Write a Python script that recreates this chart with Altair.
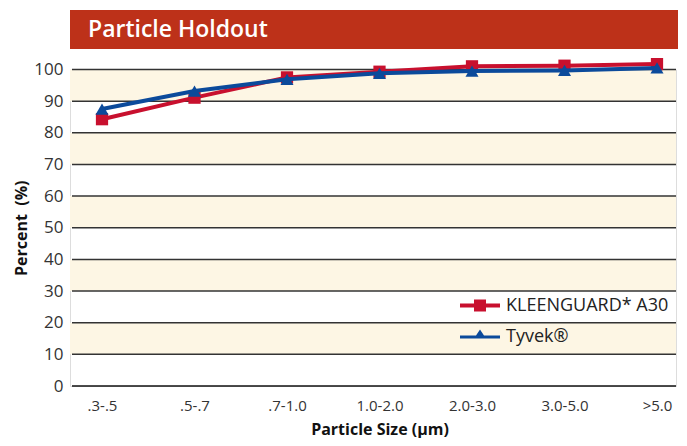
import altair as alt
import pandas as pd

categories = [".3-.5", ".5-.7", ".7-1.0", "1.0-2.0", "2.0-3.0", "3.0-5.0", ">5.0"]
series_names = ["KLEENGUARD* A30", "Tyvek®"]
kleenguard = [84.3, 91.1, 97.5, 99.3, 101.0, 101.2, 101.7]
tyvek = [87.5, 93.2, 96.9, 98.8, 99.5, 99.7, 100.5]
grid_values = [0, 10, 20, 30, 40, 50, 60, 70, 80, 90, 100]
band_starts = [10, 30, 50, 70, 90]

RED = "#c8102e"
BLUE = "#0b4a9b"
BANNER = "#bd3119"
CREAM = "#fdf6e4"
FONT = "Open Sans"

W, H = 606, 316.5

rows = []
for name, vals in zip(series_names, [kleenguard, tyvek]):
    for c, v in zip(categories, vals):
        rows.append({"size": c, "series": name, "value": v})
df = pd.DataFrame(rows)

bands = pd.DataFrame({"lo": band_starts, "hi": [b + 10 for b in band_starts]})
grid = pd.DataFrame({"v": grid_values})
one = pd.DataFrame({"t": ["Particle Holdout"]})

yscale = alt.Scale(domain=[0, 100], nice=False)
xscale = alt.Scale(domain=categories, range=[32, 587], padding=0)

x_axis = alt.Axis(
    title="Particle Size (µm)",
    labelAngle=0,
    ticks=False,
    domain=False,
    labelPadding=12,
    labelFontSize=15,
    labelColor="#333",
    labelFont=FONT,
    titleFont=FONT,
    titleFontSize=16,
    titleFontWeight="bold",
    titleColor="#111",
    titlePadding=8,
)
y_axis = alt.Axis(
    title="Percent\u00a0\u00a0(%)",
    values=list(range(0, 101, 10)),
    grid=False,
    ticks=False,
    domain=False,
    labelOverlap=False,
    labelPadding=7,
    labelFontSize=17,
    labelColor="#333",
    labelFont=FONT,
    titleFont=FONT,
    titleFontSize=16,
    titleFontWeight="bold",
    titleColor="#111",
    titlePadding=4,
)

x_enc = alt.X("size:O", scale=xscale, sort=categories, axis=x_axis)
y_enc = alt.Y("value:Q", scale=yscale, axis=y_axis)

band_layer = alt.Chart(bands).mark_rect(color=CREAM).encode(
    x=alt.value(0), x2=alt.value(W),
    y=alt.Y("lo:Q", scale=yscale, axis=y_axis), y2="hi:Q",
)
grid_layer = alt.Chart(grid).mark_rule(strokeWidth=1.5).encode(
    x=alt.value(2), x2=alt.value(W),
    y=alt.Y("v:Q", scale=yscale, axis=y_axis),
    color=alt.condition(alt.datum.v == 0, alt.value("#111111"), alt.value("#333333")),
)

layers = [band_layer, grid_layer]
for name, color, shape, sz in [(series_names[0], RED, "square", 150), (series_names[1], BLUE, "triangle-up", 170)]:
    base = alt.Chart(df).transform_filter(alt.datum.series == name)
    layers.append(base.mark_line(color=color, strokeWidth=4, clip=False).encode(x=x_enc, y=y_enc))
    layers.append(base.mark_point(color=color, shape=shape, size=sz, filled=True, opacity=1, clip=False).encode(x=x_enc, y=y_enc))

sq_path = "M-1,-0.1H-0.3V-0.3H0.3V-0.1H1V0.1H0.3V0.3H-0.3V0.1H-1Z"
tri_path = "M-1,-0.05H-0.3V0.1H-1Z M-0.3,0.1L0,-0.35L0.3,0.1Z M0.3,-0.05H1V0.1H0.3Z M-0.3,-0.05H0.3V0.1H-0.3Z"

legend_layer = alt.Chart(df).mark_point(filled=True, opacity=0, size=10).encode(
    x=x_enc, y=y_enc,
    color=alt.Color("series:N", scale=alt.Scale(domain=series_names, range=[RED, BLUE]), title=None),
    shape=alt.Shape(
        "series:N",
        scale=alt.Scale(domain=series_names, range=[sq_path, tri_path]),
        title=None,
        legend=alt.Legend(
            orient="none",
            legendX=390,
            legendY=216,
            symbolSize=1600,
            symbolOpacity=1,
            symbolStrokeWidth=0,
            labelFontSize=18,
            labelFont=FONT,
            labelColor="#222",
            labelOffset=6,
            labelLimit=400,
            rowPadding=2,
        ),
    ),
)
layers.append(legend_layer)

banner = alt.Chart(one).mark_rect(color=BANNER, clip=False).encode(
    x=alt.value(0), x2=alt.value(W + 2), y=alt.value(-59.5), y2=alt.value(-20.5)
)
banner_text = alt.Chart(one).mark_text(
    color="white", font=FONT, fontSize=23, fontWeight=600, align="left", baseline="middle"
).encode(x=alt.value(18), y=alt.value(-40), text="t:N")
layers += [banner, banner_text]

chart = alt.layer(*layers).properties(
    width=W, height=H,
    autosize=alt.AutoSizeParams(type="none"),
    padding={"left": 62, "top": 61.5, "right": 2, "bottom": 52},
).configure_view(stroke=None).configure(background="white")

chart.save("out.html", embed_options={"renderer": "svg", "actions": False})
